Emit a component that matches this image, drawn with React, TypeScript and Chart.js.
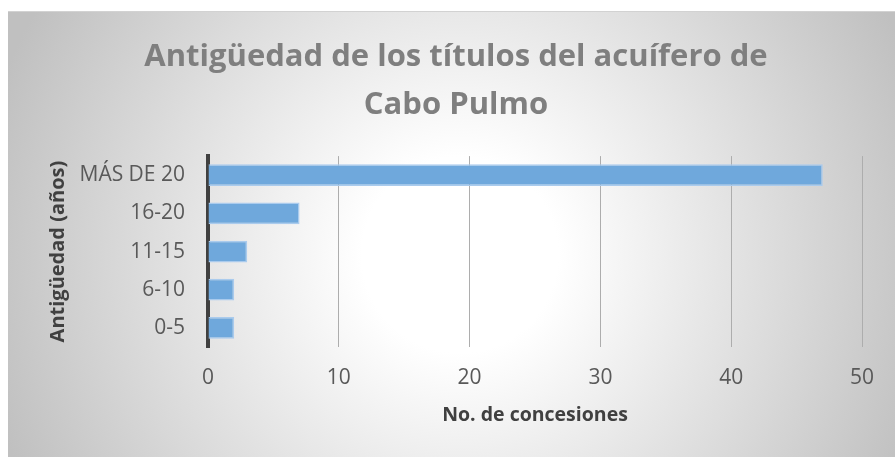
import React, { useEffect, useRef } from "react";
import { Chart, registerables } from "chart.js";

Chart.register(...registerables);

const categories = ["MÁS DE 20", "16-20", "11-15", "6-10", "0-5"];
const concesiones = [47, 7, 3, 2, 2];
const titleLines = ["Antigüedad de los títulos del acuífero de", "Cabo Pulmo"];
const xAxisTitle = "No. de concesiones";
const yAxisTitle = "Antigüedad (años)";
const xMin = 0;
const xMax = 50;
const xStep = 10;

const FONT = '"Open Sans", sans-serif';

const backgroundPlugin = {
  id: "excelBackground",
  beforeDraw(chart: any) {
    const { ctx, width, height } = chart;
    ctx.save();
    ctx.fillStyle = "#ffffff";
    ctx.fillRect(0, 0, width, height);
    const cx = 460;
    const cy = 255;
    const r = 490;
    const g = ctx.createRadialGradient(cx, cy, 0, cx, cy, r);
    g.addColorStop(0, "#ffffff");
    g.addColorStop(0.2, "#ffffff");
    g.addColorStop(1, "#c0c0c0");
    ctx.fillStyle = g;
    ctx.fillRect(8, 11, width - 8, height - 11);
    ctx.fillStyle = "#d2d2d2";
    ctx.fillRect(8, 11, width - 8, 1);
    ctx.restore();
  },
};

export default function App() {
  const ref = useRef<HTMLCanvasElement | null>(null);

  useEffect(() => {
    if (!ref.current) return;
    const chart = new Chart(ref.current, {
      type: "bar",
      data: {
        labels: categories,
        datasets: [
          {
            label: xAxisTitle,
            data: concesiones,
            backgroundColor: "#6fa8dc",
            borderColor: "#aacbed",
            borderWidth: 1.5,
            barPercentage: 0.57,
            categoryPercentage: 1,
          },
        ],
      },
      options: {
        indexAxis: "y",
        responsive: false,
        animation: false,
        layout: { padding: { left: 17, top: 11, right: 0, bottom: 0 } },
        plugins: {
          legend: { display: false },
          tooltip: { enabled: false },
          title: {
            display: true,
            text: titleLines,
            color: "#7f7f7f",
            font: { family: FONT, size: 31, weight: "bold", lineHeight: 1.55 },
            padding: { top: 22, bottom: 27 },
          },
        },
        scales: {
          x: {
            type: "linear",
            min: xMin,
            max: xMax,
            ticks: {
              stepSize: xStep,
              color: "#595959",
              font: { family: FONT, size: 21 },
              padding: 18,
            },
            grid: { color: "#adadad", lineWidth: 1, drawTicks: false },
            border: { display: false },
            title: {
              display: true,
              text: xAxisTitle,
              color: "#404040",
              font: { family: FONT, size: 19.5, weight: "bold", lineHeight: 1.2 },
              padding: { top: 0, bottom: 30.3 },
            },
            afterFit(scale: any) {
              scale.height = 110;
            },
          },
          y: {
            type: "category",
            position: "left",
            ticks: {
              color: "#595959",
              font: { family: FONT, size: 21 },
              padding: 23,
            },
            grid: { display: false, drawTicks: false },
            border: { display: true, color: "#404040", width: 4 },
            title: {
              display: true,
              text: yAxisTitle,
              color: "#404040",
              font: { family: FONT, size: 20, weight: "bold", lineHeight: 1.2 },
              padding: { top: 29, bottom: 0 },
            },
            afterFit(scale: any) {
              scale.width = 191;
            },
          },
          yRight: {
            type: "linear",
            axis: "y",
            position: "right",
            display: true,
            ticks: { display: false },
            grid: { display: false, drawTicks: false },
            border: { display: false },
            afterFit(scale: any) {
              scale.width = 33;
            },
          },
        },
      } as any,
      plugins: [backgroundPlugin],
    });
    return () => chart.destroy();
  }, []);

  return (
    <div style={{ position: "absolute", left: 0, top: 0, width: 895, height: 457 }}>
      <canvas ref={ref} width={895} height={457} style={{ display: "block" }} />
    </div>
  );
}
